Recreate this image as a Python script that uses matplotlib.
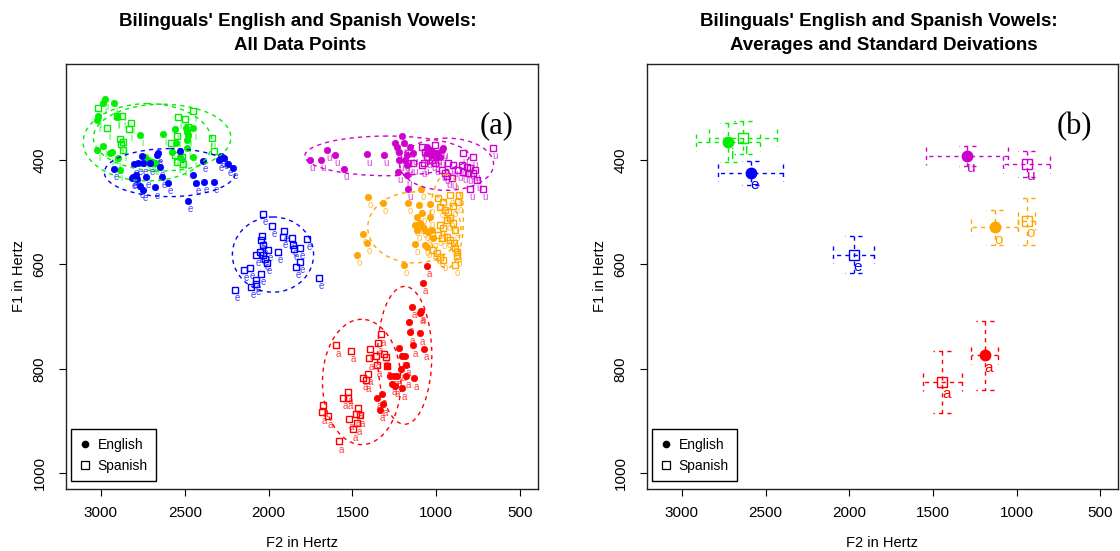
import matplotlib
matplotlib.use('Agg')
import matplotlib.pyplot as plt
from matplotlib.patches import Ellipse
from matplotlib.lines import Line2D

plt.rcParams['font.family'] = ['Liberation Sans', 'DejaVu Sans']

vowels = ['i', 'e', 'a', 'o', 'u']
colors = ['#00EE00', '#0000FF', '#FF0000', '#FFA500', '#CD00CD']

# ---------------- individual tokens (F2, F1 in Hz) ----------------
eng_i_f2 = [2976, 2988, 2922, 3018, 3024, 2905, 2767, 2630, 2558, 2493, 2487, 2451, 2481, 2487, 2552,
            2487, 2988, 3024, 2946, 2934, 2899, 2737, 2720, 2696, 2678, 2451, 2529, 2887, 2576]
eng_i_f1 = [283, 291, 291, 316, 324, 318, 352, 350, 341, 339, 347, 339, 352, 362, 368,
            377, 373, 381, 387, 385, 396, 394, 400, 404, 406, 394, 394, 419, 385]
spa_i_f2 = [3018, 2964, 2905, 2875, 2821, 2833, 2887, 2869, 2881, 2869, 2541, 2499, 2451, 2547, 2582,
            2338, 2326, 2558, 2547, 2511, 2517, 2690, 2708, 2481]
spa_i_f1 = [301, 339, 316, 316, 329, 341, 360, 366, 369, 381, 318, 322, 306, 354, 368,
            358, 383, 390, 404, 408, 394, 406, 404, 337]

eng_e_f2 = [2922, 2803, 2779, 2755, 2666, 2660, 2648, 2636, 2809, 2791, 2785, 2731, 2749, 2767, 2678, 2600,
            2451, 2433, 2385, 2326, 2391, 2296, 2284, 2266, 2242, 2212, 2481, 2529, 2708, 2749, 2816]
eng_e_f1 = [417, 408, 406, 392, 390, 387, 413, 432, 432, 429, 436, 432, 457, 450, 452, 444,
            429, 444, 442, 442, 402, 400, 392, 396, 408, 415, 478, 383, 406, 406, 434]
spa_e_f2 = [2033, 1980, 1908, 1914, 1860, 1771, 2039, 2045, 2033, 2004, 2051, 2075, 2033, 2021, 2009,
            1944, 1854, 1848, 1813, 1813, 1836, 2111, 2147, 2045, 2075, 2075, 2105, 2200, 1699]
spa_e_f1 = [503, 526, 536, 547, 549, 551, 545, 553, 562, 572, 576, 581, 581, 589, 597,
            576, 562, 570, 568, 595, 604, 606, 610, 618, 629, 637, 643, 648, 625]

eng_a_f2 = [1055, 1079, 1144, 1097, 1091, 1162, 1156, 1097, 1138, 1073, 1222, 1204, 1186, 1180,
            1293, 1210, 1276, 1252, 1234, 1180, 1132, 1264, 1246, 1204, 1323, 1353, 1317, 1335]
eng_a_f1 = [602, 635, 681, 692, 690, 711, 730, 732, 755, 761, 759, 776, 776, 792,
            795, 801, 813, 813, 813, 814, 818, 828, 832, 837, 849, 855, 868, 878]
spa_a_f2 = [1329, 1347, 1598, 1508, 1395, 1401, 1359, 1311, 1299, 1353, 1293, 1407, 1437, 1419,
            1526, 1556, 1526, 1675, 1681, 1645, 1466, 1478, 1455, 1520, 1472, 1496, 1580]
spa_a_f1 = [734, 750, 755, 765, 761, 780, 776, 772, 778, 793, 795, 809, 818, 822,
            845, 856, 855, 870, 883, 891, 874, 887, 889, 895, 904, 916, 939]

eng_o_f2 = [1407, 1317, 1168, 1102, 1037, 1091, 1114, 1085, 1126, 1097, 1079, 1067, 1049, 1025,
            1114, 1437, 1413, 1472, 1126, 1067, 1055, 1192, 1019, 1037]
eng_o_f1 = [471, 482, 482, 486, 484, 455, 509, 501, 524, 520, 528, 534, 538, 534,
            534, 541, 559, 581, 561, 562, 566, 601, 549, 509]
spa_o_f2 = [989, 959, 918, 864, 870, 977, 947, 929, 900, 918, 900, 935, 977, 959,
            888, 989, 965, 935, 918, 1019, 995, 977, 888, 876, 959, 888, 876, 894]
spa_o_f1 = [473, 480, 467, 467, 480, 490, 496, 499, 488, 511, 520, 515, 524, 530,
            534, 543, 549, 547, 553, 572, 578, 585, 568, 576, 591, 601, 583, 559]

eng_u_f2 = [1753, 1687, 1651, 1604, 1550, 1413, 1311, 1204, 1246, 1234, 1192, 1156, 1222, 1174, 1138, 1186,
            1222, 1174, 1228, 1174, 1168, 1055, 1037, 1019, 995, 965, 959, 1055, 1025, 1007, 977]
eng_u_f1 = [400, 400, 381, 390, 417, 389, 390, 354, 368, 375, 368, 375, 385, 390, 387, 400,
            400, 410, 423, 429, 455, 375, 381, 385, 387, 381, 377, 387, 390, 394, 394]
spa_u_f2 = [1085, 1067, 1055, 1025, 1007, 1073, 1138, 1085, 1007, 929, 900, 840, 780, 846, 816,
            798, 870, 840, 810, 768, 780, 756, 798, 721, 661, 965, 947, 1168, 906, 935]
spa_u_f1 = [375, 385, 394, 400, 406, 406, 406, 410, 371, 406, 410, 387, 394, 410, 413,
            415, 419, 423, 425, 419, 425, 438, 455, 455, 377, 419, 425, 406, 434, 431]

eng_f2 = [eng_i_f2, eng_e_f2, eng_a_f2, eng_o_f2, eng_u_f2]
eng_f1 = [eng_i_f1, eng_e_f1, eng_a_f1, eng_o_f1, eng_u_f1]
spa_f2 = [spa_i_f2, spa_e_f2, spa_a_f2, spa_o_f2, spa_u_f2]
spa_f1 = [spa_i_f1, spa_e_f1, spa_a_f1, spa_o_f1, spa_u_f1]

# ---------------- averages and standard deviations (order i, e, a, o, u) ----------------
eng_mean_f2 = [2722, 2589, 1189, 1131, 1294]
eng_mean_f1 = [366, 424, 774, 529, 392]
eng_sd_f2 = [192, 195, 81, 139, 245]
eng_sd_f1 = [37, 23, 66, 34, 19]
spa_mean_f2 = [2635, 1974, 1445, 939, 939]
spa_mean_f1 = [357, 581, 825, 517, 408]
spa_sd_f2 = [205, 121, 117, 50, 140]
spa_sd_f1 = [32, 36, 60, 45, 25]

xticks = [3000, 2500, 2000, 1500, 1000, 500]
yticks = [400, 600, 800, 1000]
XLIM = (3208, 394)
YLIM = (1030, 216)

DASH = (0, (3, 3))

fig = plt.figure(figsize=(11.2, 5.51), dpi=100)
ax1 = fig.add_axes([66 / 1120, 1 - 489 / 551, 472 / 1120, 425 / 551])
ax2 = fig.add_axes([647 / 1120, 1 - 489 / 551, 471 / 1120, 425 / 551])


def style_axes(ax):
    ax.set_xlim(*XLIM)
    ax.set_ylim(*YLIM)
    ax.set_xticks(xticks)
    ax.set_yticks(yticks)
    ax.tick_params(direction='out', length=5, width=0.8, labelsize=11, colors='black')
    ax.tick_params(axis='x', pad=7)
    ax.tick_params(axis='y', pad=9)
    for lab in ax.get_yticklabels():
        lab.set_rotation(90)
        lab.set_va('center')
    for sp in ax.spines.values():
        sp.set_linewidth(1.0)
        sp.set_color('#222222')
    ax.set_xlabel('F2 in Hertz', fontsize=10.5, labelpad=12)
    ax.set_ylabel('F1 in Hertz', fontsize=10.5, labelpad=5)


style_axes(ax1)
style_axes(ax2)

# ---------------- left panel: all data points ----------------
for k, v in enumerate(vowels):
    c = colors[k]
    for xs, ys, mk in ((eng_f2[k], eng_f1[k], 'o'), (spa_f2[k], spa_f1[k], 's')):
        if mk == 'o':
            ax1.plot(xs, ys, ls='none', marker='o', ms=4.6, mfc=c, mec=c, mew=0.5, zorder=3)
        else:
            ax1.plot(xs, ys, ls='none', marker='s', ms=5.0, mfc='none', mec=c, mew=1.0, zorder=3)
        for x, y in zip(xs, ys):
            ax1.annotate(v, (x, y), xytext=(1.5, -6.0), textcoords='offset points',
                         ha='center', va='center', fontsize=7, color=c, alpha=0.75, zorder=2)
    for mx, my, sx, sy in ((eng_mean_f2[k], eng_mean_f1[k], eng_sd_f2[k], eng_sd_f1[k]),
                           (spa_mean_f2[k], spa_mean_f1[k], spa_sd_f2[k], spa_sd_f1[k])):
        ax1.add_patch(Ellipse((mx, my), 4 * sx, 4 * sy, fill=False, edgecolor=c,
                              lw=1.0, ls=DASH, zorder=4))

ax1.text(0.913, 0.854, '(a)', transform=ax1.transAxes, ha='center', va='center',
         fontsize=22, family='Liberation Serif')

# ---------------- right panel: averages and SDs ----------------
px_x = (XLIM[0] - XLIM[1]) / 471.0
px_y = (YLIM[0] - YLIM[1]) / 425.0
CAP = 8.7


def cross(ax, x, y, sx, sy, c):
    kw = dict(color=c, lw=1.0, ls=DASH, zorder=2)
    ax.plot([x - sx, x + sx], [y, y], **kw)
    ax.plot([x, x], [y - sy, y + sy], **kw)
    cx, cy = CAP * px_x, CAP * px_y
    for xe in (x - sx, x + sx):
        ax.plot([xe, xe], [y - cy, y + cy], **kw)
    for ye in (y - sy, y + sy):
        ax.plot([x - cx, x + cx], [ye, ye], **kw)


for k, v in enumerate(vowels):
    c = colors[k]
    cross(ax2, eng_mean_f2[k], eng_mean_f1[k], eng_sd_f2[k], eng_sd_f1[k], c)
    cross(ax2, spa_mean_f2[k], spa_mean_f1[k], spa_sd_f2[k], spa_sd_f1[k], c)
    ax2.plot([eng_mean_f2[k]], [eng_mean_f1[k]], ls='none', marker='o', ms=7.5, mfc=c, mec=c, zorder=3)
    ax2.plot([spa_mean_f2[k]], [spa_mean_f1[k]], ls='none', marker='s', ms=7.5, mfc='none',
             mec=c, mew=1.0, zorder=3)
    for x, y in ((eng_mean_f2[k], eng_mean_f1[k]), (spa_mean_f2[k], spa_mean_f1[k])):
        ax2.annotate(v, (x, y), xytext=(3.0, -8.8), textcoords='offset points',
                     ha='center', va='center', fontsize=11, color=c, zorder=3)

ax2.text(0.907, 0.852, '(b)', transform=ax2.transAxes, ha='center', va='center',
         fontsize=22, family='Liberation Serif')

# ---------------- legends ----------------
handles = [Line2D([], [], ls='none', marker='o', ms=4.5, mfc='black', mec='black'),
           Line2D([], [], ls='none', marker='s', ms=5.5, mfc='none', mec='black', mew=0.9)]
for ax in (ax1, ax2):
    leg = ax.legend(handles, ['English', 'Spanish'], loc='lower left',
                    bbox_to_anchor=(0.011, 0.019), borderaxespad=0, fontsize=10,
                    frameon=True, fancybox=False, edgecolor='black', framealpha=1,
                    handlelength=0.8, handletextpad=0.5, labelspacing=0.5, borderpad=0.6)
    leg.get_frame().set_linewidth(1.0)

# ---------------- titles ----------------
fig.text(298 / 1120, 1 - 22 / 551, "Bilinguals' English and Spanish Vowels:", ha='center', va='center',
         fontsize=13.5, fontweight='bold')
fig.text(300 / 1120, 1 - 45 / 551, "All Data Points", ha='center', va='center',
         fontsize=13.5, fontweight='bold')
fig.text(879 / 1120, 1 - 22 / 551, "Bilinguals' English and Spanish Vowels:", ha='center', va='center',
         fontsize=13.5, fontweight='bold')
fig.text(884 / 1120, 1 - 45 / 551, "Averages and Standard Deivations", ha='center', va='center',
         fontsize=13.5, fontweight='bold')

fig.savefig('out.png', dpi=100)
